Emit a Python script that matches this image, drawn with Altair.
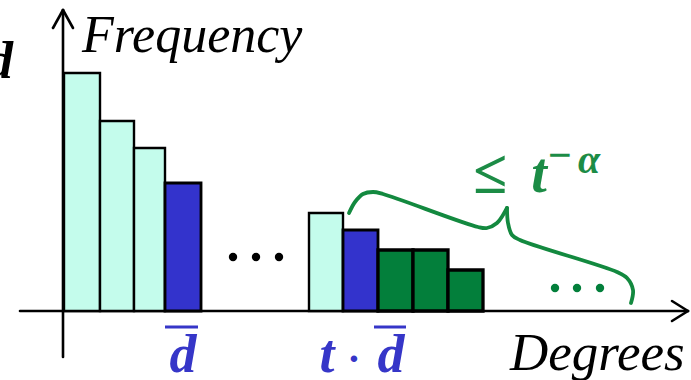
import altair as alt
import pandas as pd

# Degree histogram: bar edges (degree units) and frequencies
bar_lo = [1, 37, 71, 102, 246, 280, 315, 350, 385]
bar_hi = [37, 71, 102, 138, 280, 315, 350, 385, 420]
freq = [238, 190, 163, 128, 98, 81, 61, 61, 41]
group = ["low", "low", "low", "mean", "low", "mean", "tail", "tail", "tail"]

# Brace spanning the tail of the distribution (two halves meeting at the cusp)
brace_x = [286, 292, 300, 310, 320, 415, 424, 434, 440, 444,
           444, 445, 449, 457, 554, 564, 570, 568]
brace_y = [98, 109, 117, 119, 117, 84, 83, 88, 96, 103,
           103, 88, 76, 71, 39, 33, 21, 8]
brace_part = ["a"] * 10 + ["b"] * 8

# Ellipsis dots
gap_dots_x = [170, 193, 216]
gap_dots_y = [54, 54, 54]
tail_dots_x = [492, 514, 537]
tail_dots_y = [23, 23, 23]

# Axis lines and arrow heads
axis_x = [0, -43, 0, 0, 625, 625]
axis_y = [-46, 0, 301, 301, 0, 0]
axis_x2 = [0, 625, -10, 10, 609, 609]
axis_y2 = [301, 0, 283, 283, 10, -10]

SERIF = "Liberation Serif"
AQUA = "#C4FCEC"
BLUE = "#3333CC"
GREEN = "#037F3B"
LINE_GREEN = "#13893F"
TEXT_GREEN = "#1C8C46"
TEXT_BLUE = "#3636C8"

XS = alt.Scale(domain=[-63, 628], nice=False, zero=False)
YS = alt.Scale(domain=[-69, 311], nice=False, zero=False)


def X(field=None, datum=None):
    if datum is not None:
        return alt.X(datum=datum, type="quantitative", scale=XS, axis=None)
    return alt.X(field, type="quantitative", scale=XS, axis=None)


def Y(field=None, datum=None):
    if datum is not None:
        return alt.Y(datum=datum, type="quantitative", scale=YS, axis=None)
    return alt.Y(field, type="quantitative", scale=YS, axis=None)


one = pd.DataFrame({"k": [0]})


def label(txt, x, y, size, color, align="center", weight="bold", style="italic"):
    return alt.Chart(one).mark_text(
        text=txt, font=SERIF, fontSize=size, fontStyle=style, fontWeight=weight,
        color=color, align=align, baseline="alphabetic",
    ).encode(x=X(datum=x), y=Y(datum=y))


def overline(x0, x1, y):
    return alt.Chart(one).mark_rule(color=TEXT_BLUE, strokeWidth=3).encode(
        x=X(datum=x0), x2=alt.X2(datum=x1), y=Y(datum=y)
    )


bars_df = pd.DataFrame({"lo": bar_lo, "hi": bar_hi, "freq": freq, "group": group})
bars = alt.Chart(bars_df).mark_rect(stroke="black").encode(
    x=X("lo"),
    x2="hi",
    y=Y("freq"),
    y2=alt.Y2(datum=0),
    fill=alt.Fill("group:N", scale=alt.Scale(domain=["low", "mean", "tail"],
                                             range=[AQUA, BLUE, GREEN]), legend=None),
    strokeWidth=alt.StrokeWidth("group:N", scale=alt.Scale(domain=["low", "mean", "tail"],
                                                           range=[2.4, 3.3, 3.0]), legend=None),
)

axes_df = pd.DataFrame({"x": axis_x, "y": axis_y, "x2": axis_x2, "y2": axis_y2})
axes = alt.Chart(axes_df).mark_rule(color="black", strokeWidth=2.6, strokeCap="round").encode(
    x=X("x"), y=Y("y"), x2="x2", y2="y2"
)

brace_df = pd.DataFrame({"x": brace_x, "y": brace_y, "part": brace_part,
                         "idx": list(range(len(brace_x)))})
brace = alt.Chart(brace_df).mark_line(
    color=LINE_GREEN, strokeWidth=3.8, interpolate="catmull-rom", strokeCap="round"
).encode(x=X("x"), y=Y("y"), detail="part:N", order="idx:Q")

gap_dots = alt.Chart(pd.DataFrame({"x": gap_dots_x, "y": gap_dots_y})).mark_circle(
    color="black", size=70, opacity=1
).encode(x=X("x"), y=Y("y"))

tail_dots = alt.Chart(pd.DataFrame({"x": tail_dots_x, "y": tail_dots_y})).mark_circle(
    color=GREEN, size=70, opacity=1
).encode(x=X("x"), y=Y("y"))

texts = [
    label("Frequency", 19, 259, 52, "black", align="left", weight="normal"),
    label("Degrees", 447, -59, 53, "black", align="left", weight="normal"),
    label("d", -50, 233, 52, "black", align="right"),
    label("d", 120, -61, 54, TEXT_BLUE),
    overline(102, 135, -16),
    label("t", 264, -61, 54, TEXT_BLUE),
    label("·", 291, -61, 40, TEXT_BLUE, style="normal"),
    label("d", 328, -61, 54, TEXT_BLUE),
    overline(311, 343, -16),
    label("≤", 427, 118, 62, TEXT_GREEN, style="normal"),
    label("t", 476, 119, 56, TEXT_GREEN),
    label("−", 497, 142, 42, TEXT_GREEN, style="normal"),
    label("α", 526, 138, 40, TEXT_GREEN),
]

chart = alt.layer(axes, bars, brace, gap_dots, tail_dots, *texts).properties(
    width=691, height=380, padding=0,
    autosize=alt.AutoSizeParams(type="none"),
    background="white",
).configure_view(stroke=None)

chart.save("out.html", embed_options={"renderer": "svg", "actions": False})
